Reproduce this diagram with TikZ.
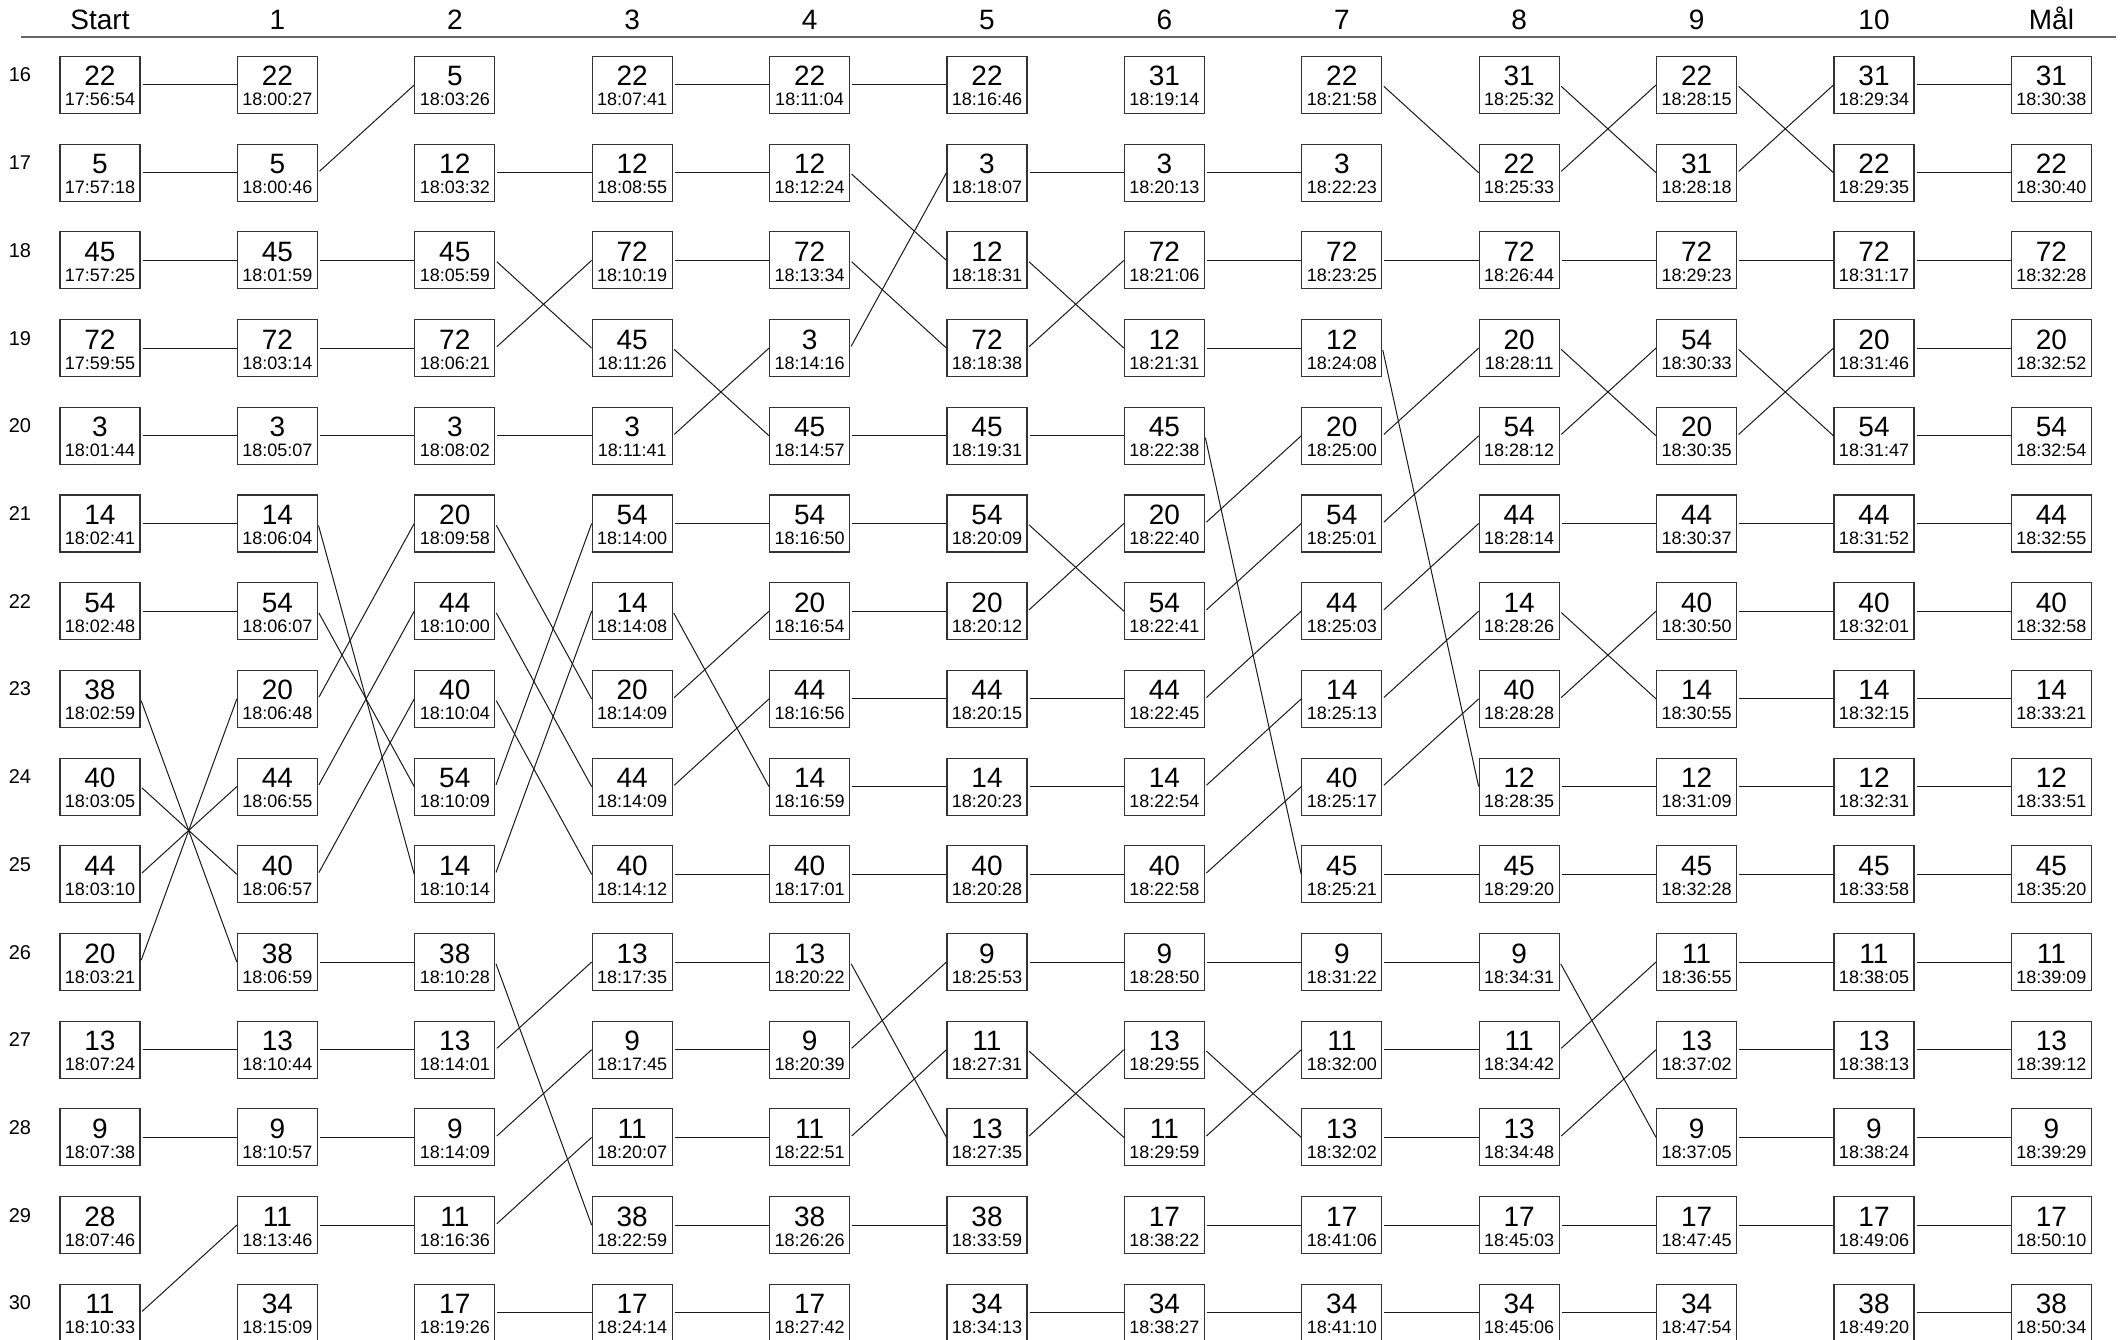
\documentclass[tikz,border=0pt]{standalone}
\usepackage{fontspec}
\setmainfont{Liberation Sans}
\tikzset{
 cell/.style={draw=black!80, line width=1.1pt, minimum width=80pt, minimum height=57pt, inner sep=0pt},
 numtxt/.style={anchor=base, inner sep=0pt, font=\fontsize{28}{30}\selectfont},
 timetxt/.style={anchor=base, inner sep=0pt, font=\fontsize{18}{20}\selectfont},
 hdr/.style={anchor=base, inner sep=0pt, font=\fontsize{28}{30}\selectfont},
 rowlbl/.style={anchor=base, inner sep=0pt, font=\fontsize{20}{22}\selectfont},
 conn/.style={draw=black!90, line width=1pt, shorten <=2pt},
 headrule/.style={draw=black!60, line width=2pt}
}
\begin{document}
\begin{tikzpicture}[x=1pt,y=-1pt]
\useasboundingbox (0,0) rectangle (2122,1340);
% header
\foreach \lab [count=\i from 0] in {Start,1,2,3,4,5,6,7,8,9,10,Mål}{
  \node[hdr] (h\i) at ({100+177.4*\i},29.3) {\lab};
}
\coordinate (hl) at (21,36.7);
\coordinate (hr) at (2116,36.7);
\draw[headrule] (hl) -- (hr);
% row labels
\foreach \row in {16,...,30}{
  \node[rowlbl] (r\row) at (20,{82+87.7*(\row-16)}) {\row};
}
% cells
\foreach \col/\lst in {
0/{22/17:56:54,5/17:57:18,45/17:57:25,72/17:59:55,3/18:01:44,14/18:02:41,54/18:02:48,38/18:02:59,40/18:03:05,44/18:03:10,20/18:03:21,13/18:07:24,9/18:07:38,28/18:07:46,11/18:10:33},
1/{22/18:00:27,5/18:00:46,45/18:01:59,72/18:03:14,3/18:05:07,14/18:06:04,54/18:06:07,20/18:06:48,44/18:06:55,40/18:06:57,38/18:06:59,13/18:10:44,9/18:10:57,11/18:13:46,34/18:15:09},
2/{5/18:03:26,12/18:03:32,45/18:05:59,72/18:06:21,3/18:08:02,20/18:09:58,44/18:10:00,40/18:10:04,54/18:10:09,14/18:10:14,38/18:10:28,13/18:14:01,9/18:14:09,11/18:16:36,17/18:19:26},
3/{22/18:07:41,12/18:08:55,72/18:10:19,45/18:11:26,3/18:11:41,54/18:14:00,14/18:14:08,20/18:14:09,44/18:14:09,40/18:14:12,13/18:17:35,9/18:17:45,11/18:20:07,38/18:22:59,17/18:24:14},
4/{22/18:11:04,12/18:12:24,72/18:13:34,3/18:14:16,45/18:14:57,54/18:16:50,20/18:16:54,44/18:16:56,14/18:16:59,40/18:17:01,13/18:20:22,9/18:20:39,11/18:22:51,38/18:26:26,17/18:27:42},
5/{22/18:16:46,3/18:18:07,12/18:18:31,72/18:18:38,45/18:19:31,54/18:20:09,20/18:20:12,44/18:20:15,14/18:20:23,40/18:20:28,9/18:25:53,11/18:27:31,13/18:27:35,38/18:33:59,34/18:34:13},
6/{31/18:19:14,3/18:20:13,72/18:21:06,12/18:21:31,45/18:22:38,20/18:22:40,54/18:22:41,44/18:22:45,14/18:22:54,40/18:22:58,9/18:28:50,13/18:29:55,11/18:29:59,17/18:38:22,34/18:38:27},
7/{22/18:21:58,3/18:22:23,72/18:23:25,12/18:24:08,20/18:25:00,54/18:25:01,44/18:25:03,14/18:25:13,40/18:25:17,45/18:25:21,9/18:31:22,11/18:32:00,13/18:32:02,17/18:41:06,34/18:41:10},
8/{31/18:25:32,22/18:25:33,72/18:26:44,20/18:28:11,54/18:28:12,44/18:28:14,14/18:28:26,40/18:28:28,12/18:28:35,45/18:29:20,9/18:34:31,11/18:34:42,13/18:34:48,17/18:45:03,34/18:45:06},
9/{22/18:28:15,31/18:28:18,72/18:29:23,54/18:30:33,20/18:30:35,44/18:30:37,40/18:30:50,14/18:30:55,12/18:31:09,45/18:32:28,11/18:36:55,13/18:37:02,9/18:37:05,17/18:47:45,34/18:47:54},
10/{31/18:29:34,22/18:29:35,72/18:31:17,20/18:31:46,54/18:31:47,44/18:31:52,40/18:32:01,14/18:32:15,12/18:32:31,45/18:33:58,11/18:38:05,13/18:38:13,9/18:38:24,17/18:49:06,38/18:49:20},
11/{31/18:30:38,22/18:30:40,72/18:32:28,20/18:32:52,54/18:32:54,44/18:32:55,40/18:32:58,14/18:33:21,12/18:33:51,45/18:35:20,11/18:39:09,13/18:39:12,9/18:39:29,17/18:50:10,38/18:50:34}}{
  \foreach \nm/\tm [count=\row from 16] in \lst {
    \node[cell] (b\col-\row) at ({100+177.4*\col},{85+87.7*(\row-16)}) {};
    \node[numtxt] (v\col-\row) at ([yshift=-1pt]b\col-\row.center) {\nm};
    \node[timetxt] (t\col-\row) at ([yshift=-21pt]b\col-\row.center) {\tm};
  }
}
% connectors
\foreach \col/\pairs in {
0/{16/16,17/17,18/18,19/19,20/20,21/21,22/22,23/26,24/25,25/24,26/23,27/27,28/28,30/29},
1/{17/16,18/18,19/19,20/20,21/25,22/24,23/21,24/22,25/23,26/26,27/27,28/28,29/29},
2/{17/17,18/19,19/18,20/20,21/23,22/24,23/25,24/21,25/22,26/29,27/26,28/27,29/28,30/30},
3/{16/16,17/17,18/18,19/20,20/19,21/21,22/24,23/22,24/23,25/25,26/26,27/27,28/28,29/29,30/30},
4/{16/16,17/18,18/19,19/17,20/20,21/21,22/22,23/23,24/24,25/25,26/28,27/26,28/27,29/29},
5/{17/17,18/19,19/18,20/20,21/22,22/21,23/23,24/24,25/25,26/26,27/28,28/27,30/30},
6/{17/17,18/18,19/19,20/25,21/20,22/21,23/22,24/23,25/24,26/26,27/28,28/27,29/29,30/30},
7/{16/17,18/18,19/24,20/19,21/20,22/21,23/22,24/23,25/25,26/26,27/27,28/28,29/29,30/30},
8/{16/17,17/16,18/18,19/20,20/19,21/21,22/23,23/22,24/24,25/25,26/28,27/26,28/27,29/29,30/30},
9/{16/17,17/16,18/18,19/20,20/19,21/21,22/22,23/23,24/24,25/25,26/26,27/27,28/28,29/29},
10/{16/16,17/17,18/18,19/19,20/20,21/21,22/22,23/23,24/24,25/25,26/26,27/27,28/28,29/29,30/30}}{
  \pgfmathtruncatemacro{\nxt}{\col+1}
  \foreach \ra/\rb in \pairs {
    \draw[conn] (b\col-\ra.east) -- (b\nxt-\rb.west);
  }
}
\end{tikzpicture}
\end{document}
